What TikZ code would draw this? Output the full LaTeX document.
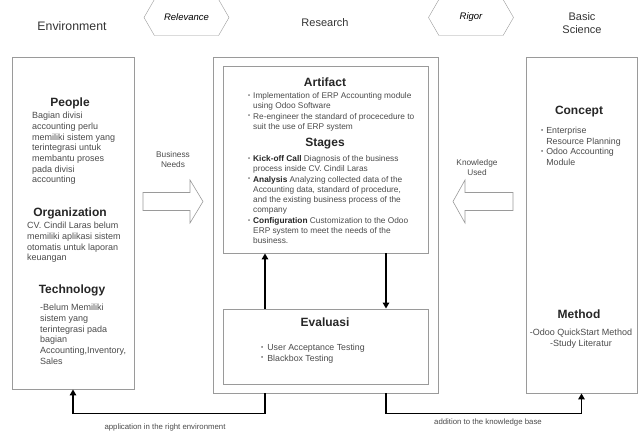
\documentclass[tikz,border=0pt]{standalone}
\usepackage{fontspec}
\setmainfont{Liberation Sans}
\usetikzlibrary{shapes.symbols,arrows.meta,positioning}

\definecolor{boxgray}{HTML}{9A9A9A}
\definecolor{txtgray}{HTML}{4A4A4A}

\newcommand{\dotitem}{\raisebox{1.2pt}{\scalebox{0.7}{\textbullet}}}

\tikzset{
  panel/.style={draw=boxgray, line width=0.9pt, inner sep=0pt},
  heading/.style={font=\fontsize{12}{14}\selectfont\bfseries, text=black!85},
  title/.style={font=\fontsize{11}{13}\selectfont, text=black!80, align=center},
  body/.style={font=\fontsize{9}{10.7}\selectfont, text=txtgray, align=left, inner sep=0pt, anchor=north west},
  list/.style={font=\fontsize{8.3}{10.3}\selectfont, text=txtgray, inner sep=0pt, anchor=north west},
  caption/.style={font=\fontsize{8.3}{10}\selectfont, text=txtgray, align=center},
  flow/.style={line width=1.4pt, -{Triangle[length=6pt,width=6.5pt]}},
  tag/.style={draw=boxgray, signal, signal to=east and west, signal pointer angle=120,
    minimum width=85pt, minimum height=36pt, inner sep=0pt, font=\fontsize{9.5}{11}\selectfont\itshape},
  fat/.style={draw=boxgray, fill=white, line width=0.6pt},
}

\begin{document}
\begin{tikzpicture}[x=1pt, y=-1pt]
\useasboundingbox (0,0) rectangle (641,434);

% headers
\node[title, font=\fontsize{12.3}{14}\selectfont] (envtitle) at (72,26) {Environment};
\node[title] (restitle) at (325,23) {Research};
\node[title] (scititle) at (582,23) {Basic\\Science};
\node[tag] (relevance) at (186.5,17.5) {Relevance};
\node[tag] (rigor) at (471,17.5) {Rigor};

% panels
\node[panel, minimum width=122pt, minimum height=332pt] (env) at (73,223) {};
\node[panel, minimum width=225pt, minimum height=336pt] (res) at (325.5,225) {};
\node[panel, minimum width=205pt, minimum height=187pt] (art) at (325.5,159.5) {};
\node[panel, minimum width=205pt, minimum height=75pt] (eva) at (325.5,346.5) {};
\node[panel, minimum width=111pt, minimum height=336pt] (sci) at (581.5,225) {};

% environment
\node[heading] (people) at (70,103) {People};
\node[body] (peopletxt) at (32,112) {Bagian divisi\\accounting perlu\\memiliki sistem yang\\terintegrasi untuk\\membantu proses\\pada divisi\\accounting};
\node[heading] (org) at (70,213) {Organization};
\node[body] (orgtxt) at (27,222) {CV. Cindil Laras belum\\memiliki aplikasi sistem\\otomatis untuk laporan\\keuangan};
\node[heading] (tech) at (72,290) {Technology};
\node[body] (techtxt) at (40,304) {-Belum Memiliki\\sistem yang\\terintegrasi pada\\bagian\\Accounting,Inventory,\\Sales};

% research
\node[heading] (artifact) at (325,82) {Artifact};
\node[list] (arttxt) at (248,91) {\begin{tabular}{@{}l@{\hspace{3pt}}l@{}}
\dotitem & Implementation of ERP Accounting module\\
 & using Odoo Software\\
\dotitem & Re-engineer the standard of procecedure to\\
 & suit the use of ERP system
\end{tabular}};
\node[heading] (stages) at (325,144) {Stages};
\node[list] (stagetxt) at (248,154) {\begin{tabular}{@{}l@{\hspace{3pt}}l@{}}
\dotitem & \textbf{\color{black!85}Kick-off Call} Diagnosis of the business\\
 & process inside CV. Cindil Laras\\
\dotitem & \textbf{\color{black!85}Analysis} Analyzing collected data of the\\
 & Accounting data, standard of procedure,\\
 & and the existing business process of the\\
 & company\\
\dotitem & \textbf{\color{black!85}Configuration} Customization to the Odoo\\
 & ERP system to meet the needs of the\\
 & business.
\end{tabular}};
\node[heading] (evaluasi) at (325,322) {Evaluasi};
\node[list, font=\fontsize{8.8}{10.5}\selectfont] (evatxt) at (261,343) {\begin{tabular}{@{}l@{\hspace{4pt}}l@{}}
\dotitem & User Acceptance Testing\\
\dotitem & Blackbox Testing
\end{tabular}};

% basic science
\node[heading] (concept) at (579,112) {Concept};
\node[list, font=\fontsize{8.8}{10.5}\selectfont] (concepttxt) at (541,126) {\begin{tabular}{@{}l@{\hspace{3pt}}l@{}}
\dotitem & Enterprise\\
 & Resource Planning\\
\dotitem & Odoo Accounting\\
 & Module
\end{tabular}};
\node[heading] (method) at (579,314) {Method};
\node[body, align=center, anchor=north] (methodtxt) at (581,329) {-Odoo QuickStart Method\\-Study Literatur};

% block arrows
\draw[fat] (143,192.5) -- (190,192.5) -- (190,180) -- (203,201.5) -- (190,223) -- (190,210.5) -- (143,210.5) -- cycle;
\node[caption] (needs) at (173,160) {Business\\Needs};
\draw[fat] (513,192.5) -- (465,192.5) -- (465,180) -- (453,201.5) -- (465,223) -- (465,210.5) -- (513,210.5) -- cycle;
\node[caption] (used) at (477,168) {Knowledge\\Used};

% cycle
\draw[flow] ([xshift=-60.5pt]eva.north) -- ([xshift=-60.5pt]art.south);
\draw[flow] ([xshift=60.5pt]art.south) -- ([xshift=60.5pt]eva.north);
\draw[flow] ([xshift=-60.5pt]res.south) -- ++(0,20) -| (env.south);
\draw[flow] ([xshift=60.5pt]res.south) -- ++(0,20) -| (sci.south);
\node[caption, font=\fontsize{7.8}{10}\selectfont] (apply) at (165,427) {application in the right environment};
\node[caption, font=\fontsize{7.8}{10}\selectfont] (addto) at (488,422) {addition to the knowledge base};
\end{tikzpicture}
\end{document}
